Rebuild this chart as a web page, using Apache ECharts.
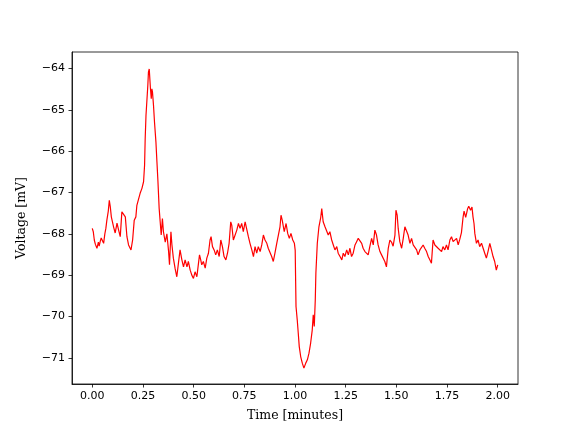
<!DOCTYPE html>
<html>
<head>
<meta charset="utf-8">
<script src="https://cdn.jsdelivr.net/npm/echarts@6/dist/echarts.min.js"></script>
<style>html,body{margin:0;padding:0;background:#fff}#c{width:576px;height:432px}</style>
</head>
<body>
<div id="c"></div>
<script>
// Time [minutes]
const times = [
0.000,0.005,0.010,0.015,0.023,0.030,0.034,0.039,0.044,0.051,0.056,0.062,0.067,0.072,0.079,0.084,0.089,0.094,0.099,0.105,
0.113,0.122,0.130,0.138,0.146,0.154,0.163,0.171,0.179,0.185,0.191,0.199,0.207,0.215,0.220,0.228,0.236,0.245,0.253,0.258,
0.261,0.265,0.269,0.274,0.277,0.281,0.284,0.287,0.291,0.294,0.297,0.302,0.307,0.314,0.319,0.324,0.330,0.335,0.340,0.346,
0.351,0.360,0.368,0.376,0.381,0.388,0.393,0.400,0.409,0.417,0.425,0.433,0.442,0.450,0.458,0.467,0.474,0.483,0.491,0.499,
0.507,0.516,0.524,0.529,0.535,0.540,0.548,0.557,0.565,0.573,0.581,0.586,0.593,0.601,0.609,0.617,0.626,0.634,0.642,0.650,
0.659,0.667,0.675,0.683,0.688,0.696,0.704,0.713,0.721,0.729,0.737,0.745,0.754,0.762,0.770,0.778,0.787,0.795,0.803,0.811,
0.819,0.828,0.836,0.844,0.852,0.861,0.868,0.877,0.885,0.893,0.901,0.910,0.918,0.926,0.931,0.937,0.947,0.956,0.964,0.972,
0.980,0.989,0.997,1.001,1.003,1.005,1.011,1.016,1.021,1.028,1.036,1.044,1.053,1.061,1.069,1.077,1.085,1.090,1.095,1.100,
1.103,1.110,1.118,1.127,1.132,1.139,1.148,1.156,1.164,1.172,1.181,1.189,1.197,1.206,1.213,1.222,1.231,1.238,1.246,1.255,
1.263,1.271,1.279,1.287,1.296,1.304,1.312,1.320,1.329,1.336,1.345,1.353,1.361,1.369,1.378,1.386,1.394,1.402,1.410,1.419,
1.427,1.435,1.443,1.451,1.460,1.468,1.476,1.484,1.493,1.498,1.504,1.509,1.517,1.526,1.534,1.542,1.550,1.558,1.567,1.575,
1.583,1.591,1.600,1.607,1.616,1.624,1.632,1.640,1.649,1.657,1.665,1.673,1.681,1.690,1.698,1.706,1.714,1.723,1.730,1.739,
1.747,1.755,1.764,1.772,1.780,1.788,1.797,1.805,1.813,1.821,1.829,1.834,1.842,1.851,1.857,1.866,1.873,1.878,1.883,1.887,
1.895,1.903,1.911,1.920,1.928,1.936,1.944,1.952,1.961,1.969,1.977,1.985,1.993,2.000
];
// Voltage [mV]
const voltage = [
-67.87,-67.95,-68.15,-68.25,-68.35,-68.20,-68.30,-68.19,-68.10,-68.07,-68.23,-68.00,-67.87,-67.67,-67.45,-67.19,-67.35,-67.59,-67.70,-67.83,
-67.98,-67.74,-67.91,-68.07,-67.47,-67.50,-67.59,-68.07,-68.27,-68.30,-68.39,-68.15,-67.67,-67.59,-67.31,-67.27,-67.02,-66.90,-66.74,-66.34,
-65.70,-65.13,-64.81,-64.41,-64.09,-64.01,-64.25,-64.49,-64.73,-64.49,-64.57,-64.89,-65.30,-65.78,-66.26,-66.74,-67.39,-67.71,-68.03,-67.63,
-67.95,-68.20,-68.00,-68.40,-68.75,-67.95,-68.27,-68.59,-68.85,-69.04,-68.71,-68.39,-68.63,-68.80,-68.63,-68.80,-68.67,-68.88,-69.00,-69.08,
-68.92,-69.04,-68.71,-68.51,-68.63,-68.75,-68.67,-68.83,-68.59,-68.47,-68.15,-68.07,-68.31,-68.39,-68.51,-68.39,-68.55,-68.15,-68.31,-68.55,
-68.63,-68.47,-68.23,-67.71,-67.79,-68.15,-68.15,-67.91,-67.75,-67.87,-67.75,-67.95,-67.71,-67.75,-68.07,-68.23,-68.39,-68.55,-68.31,-68.47,
-68.31,-68.43,-68.27,-68.03,-68.15,-68.23,-68.35,-68.31,-68.55,-68.67,-68.47,-68.23,-68.19,-67.83,-67.55,-67.67,-67.95,-67.75,-67.99,-68.11,
-67.99,-68.15,-68.23,-68.40,-69.10,-69.76,-70.08,-70.40,-70.73,-70.97,-71.13,-71.25,-71.13,-71.05,-70.89,-70.65,-70.33,-69.96,-70.24,-69.60,
-68.95,-68.23,-67.83,-67.60,-67.39,-67.71,-67.83,-67.87,-68.03,-67.95,-68.15,-68.27,-68.39,-68.31,-68.47,-68.55,-68.63,-68.47,-68.55,-68.39,
-68.51,-68.35,-68.55,-68.47,-68.27,-68.19,-68.11,-68.07,-68.23,-68.35,-68.43,-68.47,-68.51,-68.31,-68.11,-68.27,-67.91,-68.03,-68.27,-68.43,
-68.51,-68.55,-68.67,-68.80,-68.35,-68.15,-68.20,-68.30,-68.03,-67.43,-67.55,-67.87,-68.19,-68.35,-68.11,-67.83,-67.87,-68.03,-68.23,-68.11,
-68.27,-68.23,-68.39,-68.51,-68.39,-68.43,-68.27,-68.35,-68.43,-68.55,-68.63,-68.71,-68.15,-68.27,-68.23,-68.35,-68.31,-68.43,-68.31,-68.39,
-68.27,-68.39,-68.15,-68.07,-68.19,-68.15,-68.11,-68.27,-68.13,-67.97,-67.60,-67.45,-67.60,-67.40,-67.33,-67.43,-67.35,-67.59,-67.75,-67.99,
-68.23,-68.15,-68.31,-68.23,-68.35,-68.47,-68.59,-68.43,-68.23,-68.39,-68.55,-68.67,-68.88,-68.75
];
const xTicks = [0, 0.25, 0.5, 0.75, 1.0, 1.25, 1.5, 1.75, 2.0];
const yTicks = [-71, -70, -69, -68, -67, -66, -65, -64];

const chart = echarts.init(document.getElementById('c'), null, {renderer: 'canvas'});
const tickFont = {fontFamily: 'DejaVu Sans', fontSize: 11, color: '#000'};
const titleFont = {fontFamily: 'DejaVu Serif', fontSize: 12.5, color: '#000'};
chart.setOption({
  animation: false,
  backgroundColor: '#fff',
  grid: {left: 72, top: 52, width: 446, height: 332, show: true, borderColor: '#000', borderWidth: 0.8, backgroundColor: 'transparent'},
  xAxis: {
    type: 'value', min: -0.1, max: 2.1,
    name: 'Time [minutes]', nameLocation: 'middle', nameGap: 25,
    nameTextStyle: titleFont,
    axisLine: {show: true, onZero: false, lineStyle: {color: '#000', width: 0.8}},
    axisTick: {show: true, inside: false, length: 3.5, lineStyle: {color: '#000', width: 0.8}, customValues: xTicks},
    axisLabel: Object.assign({margin: 7, customValues: xTicks, formatter: v => v.toFixed(2)}, tickFont),
    splitLine: {show: false}
  },
  yAxis: {
    type: 'value', min: -71.635, max: -63.6,
    name: 'Voltage [mV]', nameLocation: 'middle', nameGap: 44, nameRotate: 90,
    nameTextStyle: titleFont,
    axisLine: {show: true, onZero: false, lineStyle: {color: '#000', width: 0.8}},
    axisTick: {show: true, inside: false, length: 3.5, lineStyle: {color: '#000', width: 0.8}, customValues: yTicks},
    axisLabel: Object.assign({margin: 7, customValues: yTicks, formatter: v => (v < 0 ? '\u2212' : '') + Math.abs(v).toFixed(0)}, tickFont),
    splitLine: {show: false}
  },
  series: [{
    type: 'line',
    data: times.map((t, i) => [t, voltage[i]]),
    showSymbol: false,
    lineStyle: {color: '#ff0000', width: 1.2},
    itemStyle: {color: '#ff0000'}
  }]
});
</script>
</body>
</html>
